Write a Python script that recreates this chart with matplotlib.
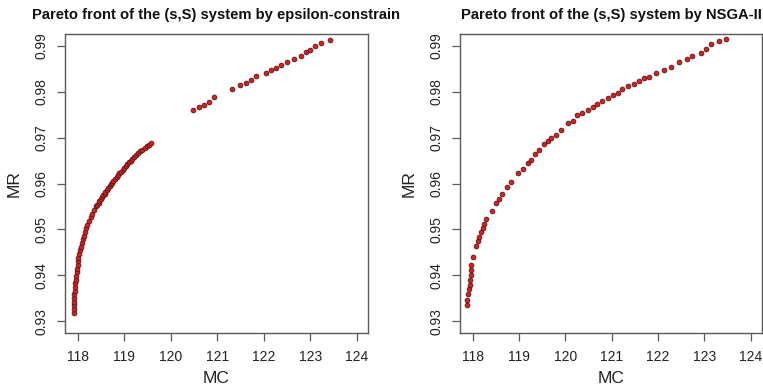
import matplotlib
matplotlib.use("Agg")
import matplotlib.pyplot as plt

plt.rcParams['font.family'] = ['Liberation Sans', 'DejaVu Sans']

##data
# epsilon-constraint front (dense part + sparse part)
eps_mc = [117.92, 117.92, 117.92, 117.92, 117.93, 117.93, 117.94, 117.95, 117.95, 117.96,
          117.97, 117.98, 117.99, 118.00, 118.01, 118.02, 118.04, 118.05, 118.07, 118.09,
          118.11, 118.13, 118.15, 118.18, 118.21, 118.24, 118.28, 118.31, 118.35,
          118.40, 118.42, 118.45, 118.47, 118.50, 118.52, 118.55, 118.58, 118.60, 118.63,
          118.66, 118.69, 118.71, 118.74, 118.77, 118.80, 118.84, 118.87, 118.90, 118.93,
          118.97, 119.00, 119.04, 119.07, 119.11, 119.14, 119.18, 119.22, 119.26, 119.30,
          119.34, 119.39, 119.44, 119.49, 119.53, 119.58,
          120.49, 120.61, 120.72, 120.83, 120.93,
          121.31, 121.50, 121.61, 121.72, 121.83, 122.04, 122.15, 122.26, 122.37, 122.50,
          122.65, 122.81, 122.90, 123.00, 123.11, 123.22, 123.42]
eps_mr = [0.9318, 0.9326, 0.9334, 0.9342, 0.9350, 0.9358, 0.9366, 0.9374, 0.9382, 0.9390,
          0.9398, 0.9406, 0.9414, 0.9422, 0.9430, 0.9438, 0.9446, 0.9454, 0.9462, 0.9470,
          0.9478, 0.9486, 0.9494, 0.9502, 0.9510, 0.9518, 0.9526, 0.9534, 0.9542,
          0.9550, 0.9554, 0.9558, 0.9562, 0.9566, 0.9570, 0.9574, 0.9578, 0.9582, 0.9586,
          0.9590, 0.9594, 0.9598, 0.9602, 0.9606, 0.9610, 0.9614, 0.9618, 0.9622, 0.9626,
          0.9630, 0.9634, 0.9638, 0.9642, 0.9646, 0.9650, 0.9654, 0.9658, 0.9662, 0.9666,
          0.9670, 0.9674, 0.9678, 0.9682, 0.9685, 0.9688,
          0.9760, 0.9766, 0.9771, 0.9778, 0.9788,
          0.9807, 0.9814, 0.9820, 0.9825, 0.9834, 0.9841, 0.9847, 0.9852, 0.9859, 0.9865,
          0.9872, 0.9879, 0.9887, 0.9892, 0.9899, 0.9906, 0.9914]

# NSGA-II front
nsga_mc = [117.89, 117.89, 117.91, 117.93, 117.94, 117.94, 117.97, 117.97, 117.97, 118.02,
           118.07, 118.11, 118.14, 118.18, 118.22, 118.25, 118.30, 118.41, 118.50, 118.58,
           118.63, 118.75, 118.84, 118.99, 119.08, 119.19, 119.26, 119.35, 119.44, 119.55,
           119.62, 119.69, 119.80, 119.91, 120.05, 120.16, 120.26, 120.37, 120.48, 120.59,
           120.69, 120.80, 120.91, 121.02, 121.13, 121.23, 121.36, 121.48, 121.59, 121.70,
           121.81, 121.95, 122.13, 122.28, 122.45, 122.63, 122.74, 122.92, 123.03, 123.14,
           123.32, 123.46]
nsga_mr = [0.9335, 0.9347, 0.9359, 0.9369, 0.9378, 0.9389, 0.9400, 0.9411, 0.9422, 0.9440,
           0.9463, 0.9474, 0.9484, 0.9495, 0.9504, 0.9511, 0.9522, 0.9540, 0.9557, 0.9567,
           0.9577, 0.9593, 0.9604, 0.9623, 0.9631, 0.9644, 0.9652, 0.9664, 0.9674, 0.9686,
           0.9692, 0.9700, 0.9705, 0.9716, 0.9731, 0.9737, 0.9749, 0.9754, 0.9761, 0.9767,
           0.9774, 0.9780, 0.9787, 0.9793, 0.9798, 0.9805, 0.9812, 0.9817, 0.9824, 0.9829,
           0.9833, 0.9842, 0.9848, 0.9855, 0.9864, 0.9872, 0.9877, 0.9884, 0.9893, 0.9904,
           0.9911, 0.9915]

x_ticks = [118, 119, 120, 121, 122, 123, 124]
y_ticks = [0.93, 0.94, 0.95, 0.96, 0.97, 0.98, 0.99]
titles = ["Pareto front of the (s,S) system by epsilon-constrain",
          "Pareto front of the (s,S) system by NSGA-II"]

##figure
fig = plt.figure(figsize=(7.63, 3.9), dpi=100)
ax1 = fig.add_axes([65/763, 57/390, 303/763, 299/390])
ax2 = fig.add_axes([460/763, 57/390, 302/763, 299/390])

frame_col = '#5a5a5a'
for ax, xs, ys, title in [(ax1, eps_mc, eps_mr, titles[0]), (ax2, nsga_mc, nsga_mr, titles[1])]:
    ax.plot(xs, ys, linestyle='none', marker='o', ms=3.5, mfc='#d82020',
            mec='#401010', mew=0.5)
    ax.set_xlim(117.73, 124.24)
    ax.set_ylim(0.9274, 0.9926)
    ax.set_xticks(x_ticks)
    ax.set_yticks(y_ticks)
    ax.set_xticklabels([str(t) for t in x_ticks])
    ax.set_yticklabels(["%.2f" % t for t in y_ticks], rotation=90, va='center')
    ax.tick_params(axis='both', length=6, width=0.9, color=frame_col,
                   labelsize=10, labelcolor='#222222', pad=6)
    ax.tick_params(axis='y', pad=6)
    for s in ax.spines.values():
        s.set_color(frame_col)
        s.set_linewidth(1.0)
    ax.set_xlabel("MC", fontsize=12.5, labelpad=5, color='#222222')
    ax.set_ylabel("MR", fontsize=12.5, labelpad=9, color='#222222')
    ax.set_title(title, fontsize=10.6, fontweight='bold', pad=11, color='#111111')

plt.savefig("out.png", dpi=100)
plt.close()
